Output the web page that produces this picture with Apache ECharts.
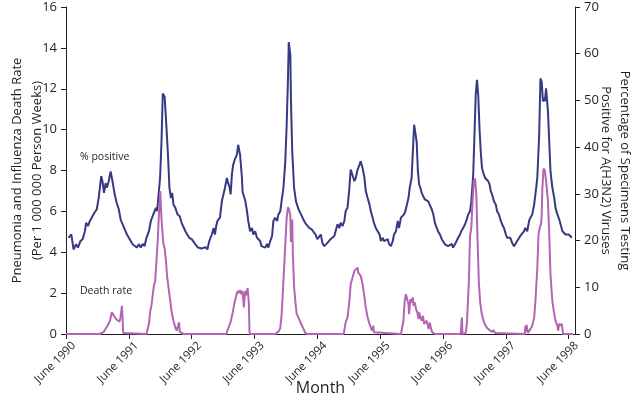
<!DOCTYPE html>
<html><head><meta charset="utf-8">
<script src="https://cdn.jsdelivr.net/npm/echarts@6/dist/echarts.min.js"></script>
<style>html,body{margin:0;padding:0;background:#fff}#c{width:640px;height:411px}</style>
</head><body><div id="c"></div>
<script>
// x values: years since June 1990
const startYear = 1990;
const yearTicks = [0, 1, 2, 3, 4, 5, 6, 7, 8];

// % of specimens positive for A(H3N2) (right axis)
const pctPositive = [[0.04,20.6],[0.085,21.3],[0.12,18.1],[0.16,19.2],[0.19,18.5],[0.23,19.9],[0.265,20.3],[0.30,22.0],[0.32,23.8],[0.35,23.1],[0.38,24.2],[0.41,24.5],[0.45,25.9],[0.47,25.6],[0.49,26.7],[0.52,29.1],[0.56,33.8],[0.58,32.7],[0.605,30.2],[0.63,32.3],[0.65,31.3],[0.68,32.7],[0.71,34.8],[0.74,32.7],[0.775,29.9],[0.80,28.4],[0.84,26.7],[0.87,24.5],[0.90,24.2],[0.935,22.4],[0.97,21.3],[1.00,20.6],[1.02,20.6],[1.06,19.2],[1.09,19.5],[1.125,18.5],[1.16,19.2],[1.19,18.5],[1.22,19.3],[1.25,18.8],[1.28,20.6],[1.32,22.0],[1.35,24.2],[1.37,24.2],[1.41,26.3],[1.43,27.0],[1.45,26.3],[1.476,30.2],[1.497,33.4],[1.52,41.2],[1.54,51.5],[1.57,50.8],[1.59,46.2],[1.62,39.1],[1.646,31.3],[1.67,29.1],[1.69,30.2],[1.71,27.7],[1.74,27.0],[1.775,25.6],[1.81,25.2],[1.84,23.8],[1.87,23.5],[1.90,22.0],[1.93,21.3],[1.96,20.6],[2.00,20.3],[2.03,19.9],[2.06,19.2],[2.10,18.5],[2.12,18.8],[2.16,18.3],[2.19,18.1],[2.22,18.6],[2.25,18.1],[2.28,19.9],[2.32,21.3],[2.35,22.7],[2.37,21.3],[2.39,23.1],[2.41,24.2],[2.43,24.5],[2.45,24.9],[2.48,28.4],[2.51,28.8],[2.53,31.3],[2.56,33.4],[2.58,32.3],[2.60,31.6],[2.62,29.9],[2.64,34.1],[2.66,36.2],[2.69,37.5],[2.72,38.4],[2.74,40.5],[2.77,38.4],[2.80,33.4],[2.81,30.4],[2.83,30.0],[2.855,28.4],[2.88,26.3],[2.90,24.2],[2.93,22.0],[2.96,22.7],[2.98,21.3],[3.01,22.0],[3.04,20.6],[3.06,21.0],[3.09,19.9],[3.11,18.8],[3.14,18.8],[3.17,18.5],[3.20,19.3],[3.22,18.5],[3.25,19.9],[3.28,21.0],[3.30,24.2],[3.33,24.9],[3.36,24.2],[3.38,25.6],[3.41,26.3],[3.43,28.4],[3.46,31.3],[3.49,37.0],[3.51,44.1],[3.53,53.3],[3.545,62.5],[3.57,59.7],[3.58,49.8],[3.60,39.1],[3.63,31.3],[3.66,28.4],[3.70,26.7],[3.74,25.6],[3.77,25.2],[3.79,24.2],[3.82,23.5],[3.85,23.8],[3.87,22.7],[3.91,22.4],[3.94,22.7],[3.97,21.3],[4.00,20.3],[4.03,19.9],[4.055,21.3],[4.08,19.5],[4.11,18.8],[4.135,18.5],[4.16,19.5],[4.19,19.9],[4.21,20.3],[4.24,20.6],[4.27,21.0],[4.29,21.3],[4.32,23.5],[4.35,22.7],[4.37,23.8],[4.40,23.1],[4.43,24.2],[4.45,26.3],[4.48,27.0],[4.51,31.3],[4.53,35.2],[4.56,35.5],[4.59,32.7],[4.61,33.4],[4.64,35.2],[4.67,36.2],[4.69,37.0],[4.72,35.5],[4.75,33.4],[4.77,30.6],[4.80,29.1],[4.83,27.7],[4.85,26.3],[4.88,24.9],[4.90,23.8],[4.93,22.7],[4.96,22.0],[4.99,21.3],[5.01,19.9],[5.04,20.6],[5.06,19.9],[5.09,19.5],[5.12,20.3],[5.14,19.3],[5.17,18.8],[5.20,19.9],[5.22,21.3],[5.25,22.0],[5.28,24.2],[5.30,22.7],[5.33,24.9],[5.36,24.5],[5.38,25.6],[5.40,26.3],[5.42,26.7],[5.45,29.1],[5.47,31.3],[5.50,33.4],[5.52,39.1],[5.54,44.8],[5.56,45.1],[5.58,41.2],[5.60,34.8],[5.62,32.0],[5.64,31.3],[5.66,30.2],[5.685,29.9],[5.71,28.8],[5.74,29.1],[5.765,28.4],[5.79,28.4],[5.82,26.7],[5.845,25.6],[5.87,23.8],[5.90,22.7],[5.92,22.0],[5.95,21.3],[5.98,20.3],[6.00,19.9],[6.03,19.2],[6.06,19.5],[6.08,18.8],[6.11,18.8],[6.14,19.3],[6.16,18.5],[6.19,19.2],[6.21,19.5],[6.24,20.6],[6.27,21.3],[6.29,22.0],[6.32,22.7],[6.35,23.5],[6.37,24.2],[6.40,25.6],[6.43,26.3],[6.45,28.4],[6.48,34.1],[6.50,42.6],[6.52,51.2],[6.54,54.4],[6.56,51.2],[6.58,44.1],[6.60,39.1],[6.62,35.5],[6.65,34.1],[6.67,33.4],[6.69,33.0],[6.72,32.7],[6.74,32.0],[6.76,30.6],[6.78,29.9],[6.81,28.4],[6.84,27.7],[6.86,26.3],[6.89,25.6],[6.92,24.2],[6.94,23.5],[6.97,22.7],[7.00,21.3],[7.02,20.6],[7.05,20.3],[7.07,20.6],[7.10,19.5],[7.13,18.8],[7.15,19.2],[7.18,19.9],[7.21,20.3],[7.23,21.0],[7.26,21.3],[7.29,22.0],[7.31,22.7],[7.34,22.0],[7.37,24.2],[7.39,24.9],[7.42,25.6],[7.45,27.7],[7.47,29.9],[7.50,33.4],[7.53,42.6],[7.55,54.7],[7.57,54.0],[7.59,49.8],[7.61,50.5],[7.62,49.8],[7.64,52.6],[7.67,47.6],[7.69,41.2],[7.71,34.8],[7.74,31.3],[7.77,29.1],[7.79,27.0],[7.82,25.6],[7.85,24.5],[7.87,23.5],[7.90,22.0],[7.93,22.4],[7.95,21.3],[7.98,21.7],[8.00,21.3],[8.03,21.0],[8.05,20.6]];

// Pneumonia and influenza death rate per 1 000 000 person weeks (left axis)
const deathRate = [[0,0],[0.46,0],[0.47,0.05],[0.49,0],[0.54,0],[0.55,0.08],[0.57,0],[0.60,0.1],[0.65,0.35],[0.70,0.65],[0.73,1.06],[0.76,0.9],[0.80,0.72],[0.83,0.7],[0.85,0.6],[0.87,0.85],[0.89,1.38],[0.90,0.8],[0.91,0.05],[0.92,0],
[1.28,0],[1.30,0.05],[1.32,0.5],[1.34,1.1],[1.36,1.4],[1.38,1.45],[1.40,2.4],[1.42,2.6],[1.44,3.6],[1.46,4.6],[1.48,5.9],[1.50,7.0],[1.52,5.6],[1.55,4.4],[1.57,4.2],[1.59,3.6],[1.61,2.8],[1.63,2.3],[1.66,1.6],[1.68,1.1],[1.71,0.65],[1.74,0.32],[1.76,0.16],[1.79,0.1],[1.80,0.57],[1.81,0.1],[1.84,0.05],[1.87,0],
[2.55,0],[2.58,0.05],[2.62,0.6],[2.65,1.0],[2.68,1.5],[2.71,1.9],[2.73,2.1],[2.75,2.0],[2.77,2.15],[2.79,1.95],[2.81,2.1],[2.83,1.3],[2.85,2.1],[2.87,1.9],[2.89,2.25],[2.91,1.5],[2.92,0.1],[2.93,0],
[3.33,0],[3.36,0.05],[3.39,0.15],[3.41,0.3],[3.43,0.9],[3.45,2.0],[3.47,3.2],[3.49,4.4],[3.51,5.6],[3.53,6.2],[3.55,6.1],[3.57,5.8],[3.58,4.5],[3.60,5.6],[3.61,3.9],[3.63,2.3],[3.65,1.6],[3.67,1.0],[3.70,1.06],[3.72,0.65],[3.74,0.5],[3.76,0.57],[3.78,0.25],[3.80,0.1],[3.83,0],
[4.42,0],[4.45,0.57],[4.48,0.81],[4.51,1.62],[4.53,2.44],[4.56,2.76],[4.59,3.09],[4.61,3.17],[4.64,3.25],[4.65,3.0],[4.67,2.92],[4.69,2.84],[4.72,2.44],[4.75,1.79],[4.77,1.3],[4.80,0.81],[4.83,0.49],[4.85,0.32],[4.87,0.16],[4.89,0.4],[4.90,0.08],[4.93,0],
[5.33,0],[5.37,0.65],[5.39,1.62],[5.41,1.95],[5.43,2.03],[5.45,1.46],[5.46,0.97],[5.48,1.71],[5.50,1.54],[5.52,1.79],[5.53,1.38],[5.55,1.54],[5.57,1.22],[5.59,1.06],[5.61,0.73],[5.62,1.06],[5.64,0.81],[5.66,0.65],[5.68,0.89],[5.70,0.49],[5.71,0.4],[5.74,0.65],[5.77,0.24],[5.79,0.57],[5.81,0.24],[5.83,0.08],[5.87,0],
[6.28,0],[6.30,0.8],[6.31,0],[6.36,0.05],[6.38,0.5],[6.41,2.5],[6.43,4.8],[6.45,5.2],[6.47,6.5],[6.49,7.5],[6.51,7.6],[6.53,6.8],[6.55,4.5],[6.57,2.5],[6.59,1.6],[6.61,1.1],[6.63,0.8],[6.66,0.5],[6.70,0.3],[6.74,0.2],[6.78,0.1],[6.80,0.2],[6.83,0.05],[6.86,0],
[7.30,0],[7.31,0.4],[7.32,0.1],[7.33,0.45],[7.35,0.05],[7.39,0.24],[7.42,0.4],[7.45,0.8],[7.47,1.6],[7.50,3.2],[7.52,4.9],[7.54,5.2],[7.56,5.4],[7.57,5.8],[7.58,7.1],[7.60,8.1],[7.62,8.0],[7.64,7.5],[7.67,6.5],[7.69,4.9],[7.71,2.9],[7.74,1.6],[7.77,0.97],[7.79,0.65],[7.82,0.4],[7.83,0.16],[7.85,0.5],[7.87,0.4],[7.89,0.5],[7.91,0],[8.07,0]];

const FONT = "'Open Sans', 'Noto Sans', sans-serif";
const INK = '#231f20';
const BLUE = '#363a82';
const PURPLE = '#b364b3';

const chart = echarts.init(document.getElementById('c'), null, {renderer: 'canvas'});
chart.setOption({
  animation: false,
  backgroundColor: '#ffffff',
  grid: {left: 66, right: 65, top: 7, bottom: 77, containLabel: false, outerBoundsMode: 'none'},
  xAxis: {
    type: 'value', min: 0, max: 8.1, interval: 1,
    name: 'Month', nameLocation: 'middle', nameGap: 46, nameMoveOverlap: false,
    nameTextStyle: {fontSize: 16, color: INK, fontFamily: FONT},
    axisLine: {show: true, onZero: false, lineStyle: {color: INK, width: 1}},
    axisTick: {show: true, inside: false, length: 5, customValues: yearTicks, lineStyle: {color: INK, width: 1}},
    axisLabel: {customValues: yearTicks, rotate: 45, margin: 2, fontSize: 11.5, lineHeight: 22, color: INK, fontFamily: FONT,
      align: 'right', verticalAlign: 'top',
      formatter: v => 'June ' + (startYear + Math.round(v))},
    splitLine: {show: false}
  },
  yAxis: [{
    type: 'value', min: 0, max: 16, interval: 2, position: 'left',
    name: 'Pneumonia and Influenza Death Rate\n(Per 1 000 000 Person Weeks)',
    nameLocation: 'middle', nameGap: 19, nameRotate: 90, nameMoveOverlap: false,
    nameTextStyle: {fontSize: 13, lineHeight: 20, color: INK, fontFamily: FONT, align: 'center'},
    axisLine: {show: true, lineStyle: {color: INK, width: 1}},
    axisTick: {show: true, inside: false, length: 5, lineStyle: {color: INK, width: 1}},
    axisLabel: {margin: 9, fontSize: 13, color: INK, fontFamily: FONT},
    splitLine: {show: false}
  }, {
    type: 'value', min: 0, max: 70, interval: 10, position: 'right',
    name: 'Percentage of Specimens Testing\nPositive for A(H3N2) Viruses',
    nameLocation: 'middle', nameGap: 21, nameRotate: -90, nameMoveOverlap: false,
    nameTextStyle: {fontSize: 13, lineHeight: 19, color: INK, fontFamily: FONT, align: 'center'},
    axisLine: {show: true, lineStyle: {color: INK, width: 1}},
    axisTick: {show: true, inside: false, length: 5, lineStyle: {color: INK, width: 1}},
    axisLabel: {margin: 9, fontSize: 13, color: INK, fontFamily: FONT},
    splitLine: {show: false}
  }],
  series: [{
    name: '% positive', type: 'line', yAxisIndex: 1, data: pctPositive,
    showSymbol: false, symbol: 'none', smooth: false,
    lineStyle: {color: BLUE, width: 2}, z: 2
  }, {
    name: 'Death rate', type: 'line', yAxisIndex: 0, data: deathRate,
    showSymbol: false, symbol: 'none', smooth: false,
    lineStyle: {color: PURPLE, width: 2}, z: 3
  }],
  graphic: [
    {type: 'text', left: 80, top: 152, style: {text: '% positive', fontSize: 10.5, fill: INK, fontFamily: FONT}},
    {type: 'text', left: 80, top: 286, style: {text: 'Death rate', fontSize: 10.5, fill: INK, fontFamily: FONT}}
  ]
});
</script>
</body></html>
